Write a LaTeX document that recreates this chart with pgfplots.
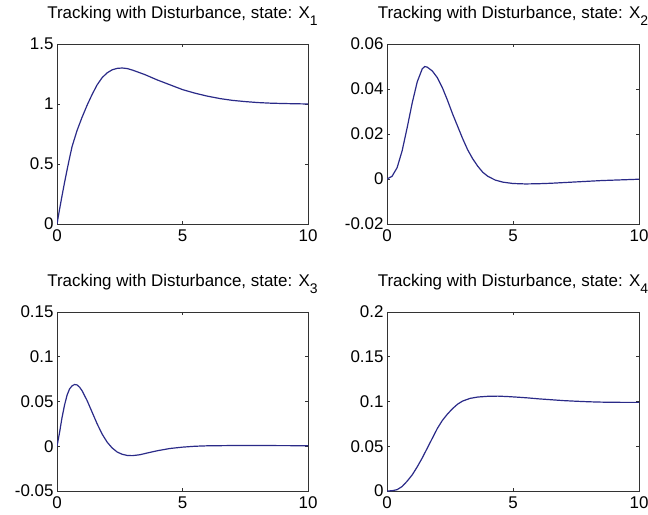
\documentclass[border=0pt]{standalone}
\usepackage{pgfplots}
\pgfplotsset{compat=1.18}
\usepackage{fontspec}
\setmainfont{Liberation Sans}
\definecolor{curve}{HTML}{2A2A88}
\newcommand{\sub}[1]{\raisebox{-0.45em}{\fontsize{14}{14}\selectfont #1}}
\pgfplotsset{
    state/.style={
        scale only axis,
        width=251bp, height=180bp,
        xmin=0, xmax=10,
        xtick={0,5,10},
        tick align=inside,
        tick pos=both,
        major tick length=3bp,
        axis line style={line width=0.9bp, black!80},
        every tick/.style={black!80, line width=0.8bp},
        font=\fontsize{17}{20}\selectfont,
        tick label style={font=\fontsize{17}{20}\selectfont},
        xticklabel style={yshift=-2bp},
        /pgf/number format/assume math mode=true,
        /pgf/number format/fixed,
        /pgf/number format/precision=2,
        scaled y ticks=false,
        title style={at={(0.5,1)}, anchor=base, yshift=20bp, font=\fontsize{17}{20}\selectfont},
    },
    trace/.style={curve, line width=1.2bp, mark=none},
}
\begin{document}
\begin{tikzpicture}
\useasboundingbox (0,0) rectangle (648bp,515bp);

% x1
\begin{axis}[state, at={(57bp,291bp)}, anchor=south west,
    ymin=0, ymax=1.5, ytick={0,0.5,1,1.5},
    title={Tracking with Disturbance, state: X\sub{1}}]
\addplot[trace] coordinates {
(0,0) (0.1,0.12) (0.2,0.235) (0.3,0.345) (0.4,0.45) (0.5,0.55) (0.6,0.645)
(0.8,0.78) (1.0,0.89) (1.2,0.99) (1.4,1.08) (1.6,1.16) (1.8,1.22) (2.0,1.26)
(2.2,1.285) (2.4,1.297) (2.6,1.30) (2.8,1.295) (3.0,1.283) (3.5,1.245)
(4.0,1.20) (4.5,1.16) (5.0,1.12) (5.5,1.09) (6.0,1.065) (6.5,1.045)
(7.0,1.03) (7.5,1.02) (8.0,1.012) (8.5,1.007) (9.0,1.004) (9.5,1.002) (10,1.0)
};
\end{axis}

% x2
\begin{axis}[state, at={(387bp,291bp)}, anchor=south west, width=252bp,
    ymin=-0.02, ymax=0.06, ytick={-0.02,0,0.02,0.04,0.06},
    title={Tracking with Disturbance, state: X\sub{2}}]
\addplot[trace] coordinates {
(0,0) (0.2,0.0012) (0.4,0.005) (0.6,0.0125) (0.8,0.0228) (1.0,0.0338)
(1.2,0.0432) (1.4,0.049) (1.5,0.05) (1.6,0.0497) (1.8,0.048) (2.0,0.045)
(2.2,0.0405) (2.4,0.035) (2.6,0.029) (2.8,0.0235) (3.0,0.018) (3.2,0.013)
(3.4,0.009) (3.6,0.0057) (3.8,0.003) (4.0,0.0012) (4.3,-0.0005) (4.6,-0.0014)
(5.0,-0.002) (5.5,-0.0022) (6.0,-0.0021) (6.5,-0.0019) (7.0,-0.0016)
(7.5,-0.0013) (8.0,-0.001) (8.5,-0.0007) (9.0,-0.0005) (9.5,-0.0003) (10,-0.0001)
};
\end{axis}

% x3
\begin{axis}[state, at={(57bp,24bp)}, anchor=south west, height=179bp,
    ymin=-0.05, ymax=0.15, ytick={-0.05,0,0.05,0.1,0.15},
    title={Tracking with Disturbance, state: X\sub{3}}]
\addplot[trace] coordinates {
(0,0) (0.1,0.015) (0.2,0.032) (0.3,0.046) (0.4,0.057) (0.5,0.064) (0.6,0.0675)
(0.7,0.069) (0.8,0.0685) (0.9,0.066) (1.0,0.062) (1.2,0.051) (1.4,0.038)
(1.6,0.025) (1.8,0.0135) (2.0,0.0045) (2.2,-0.002) (2.4,-0.0065) (2.6,-0.009)
(2.8,-0.0103) (3.0,-0.0105) (3.3,-0.0095) (3.6,-0.0075) (4.0,-0.005)
(4.5,-0.0025) (5.0,-0.001) (5.5,0.0) (6.0,0.0005) (7.0,0.0008) (8.0,0.0008)
(9.0,0.0007) (10,0.0006)
};
\end{axis}

% x4
\begin{axis}[state, at={(387bp,24bp)}, anchor=south west, width=252bp, height=179bp,
    ymin=0, ymax=0.2, ytick={0,0.05,0.1,0.15,0.2},
    title={Tracking with Disturbance, state: X\sub{4}}]
\addplot[trace] coordinates {
(0,0) (0.2,0.0003) (0.4,0.0015) (0.6,0.005) (0.8,0.011) (1.0,0.018) (1.2,0.027)
(1.4,0.037) (1.6,0.048) (1.8,0.059) (2.0,0.07) (2.2,0.079) (2.4,0.086)
(2.6,0.092) (2.8,0.097) (3.0,0.1005) (3.3,0.1035) (3.6,0.105) (4.0,0.1058)
(4.4,0.106) (4.8,0.1055) (5.2,0.1048) (5.6,0.104) (6.0,0.103) (6.5,0.102)
(7.0,0.101) (7.5,0.1003) (8.0,0.0997) (8.5,0.0993) (9.0,0.0991) (9.5,0.099) (10,0.099)
};
\end{axis}
\end{tikzpicture}
\end{document}
